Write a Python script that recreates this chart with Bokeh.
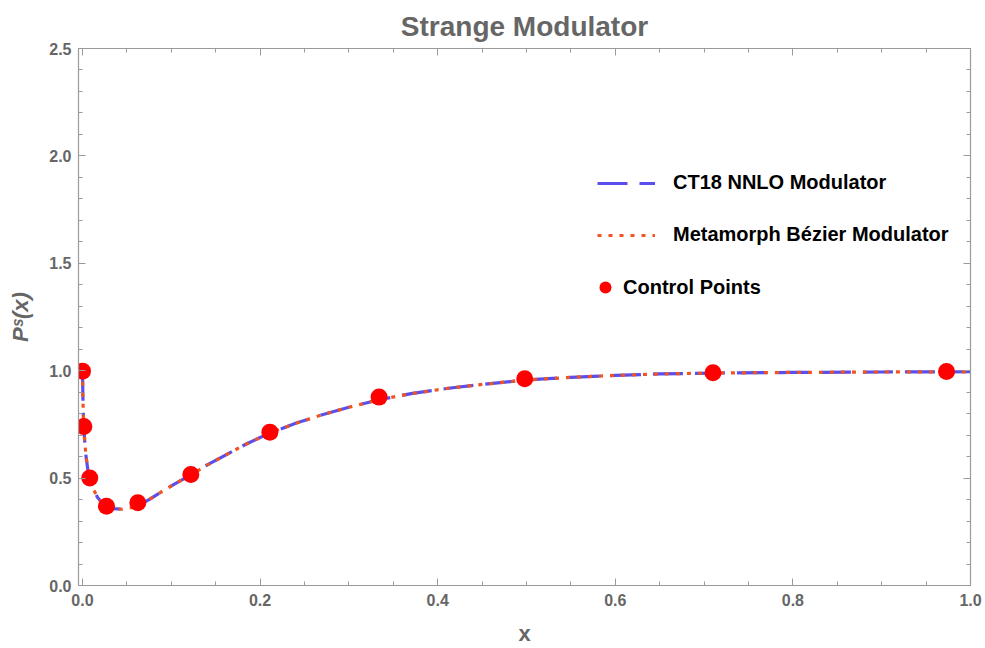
from bokeh.plotting import figure
from bokeh.models import (Range1d, LinearAxis, SingleIntervalTicker, PrintfTickFormatter,
                          Legend, LegendItem, CustomLabelingPolicy)
from bokeh.embed import file_html
from bokeh.resources import INLINE

# ---- data ----
curve_x = [0.0, 0.0005, 0.001, 0.0015, 0.0025, 0.004, 0.006, 0.0082, 0.012, 0.017,
           0.022, 0.027, 0.035, 0.045, 0.055, 0.0623, 0.075, 0.088, 0.105, 0.122,
           0.14, 0.16, 0.185, 0.211, 0.24, 0.27, 0.30, 0.334, 0.37, 0.41,
           0.45, 0.50, 0.55, 0.60, 0.65, 0.71, 0.80, 0.90, 1.0]
ct18_y = [1.0, 0.87, 0.79, 0.74, 0.67, 0.60, 0.54, 0.50, 0.45, 0.41,
          0.385, 0.37, 0.358, 0.355, 0.362, 0.372, 0.40, 0.434, 0.475, 0.515,
          0.56, 0.605, 0.66, 0.71, 0.755, 0.795, 0.83, 0.865, 0.893, 0.917,
          0.936, 0.957, 0.969, 0.978, 0.985, 0.989, 0.992, 0.994, 0.995]
bezier_y = [1.0, 0.87, 0.79, 0.74, 0.67, 0.60, 0.54, 0.50, 0.45, 0.41,
            0.385, 0.37, 0.358, 0.355, 0.362, 0.372, 0.40, 0.434, 0.475, 0.515,
            0.56, 0.605, 0.66, 0.71, 0.755, 0.795, 0.83, 0.865, 0.893, 0.917,
            0.936, 0.957, 0.969, 0.978, 0.985, 0.989, 0.992, 0.994, 0.995]
ctrl_x = [0.0, 0.0015, 0.0082, 0.027, 0.0623, 0.122, 0.211, 0.334, 0.498, 0.710, 0.973]
ctrl_y = [0.998, 0.740, 0.500, 0.369, 0.385, 0.517, 0.714, 0.877, 0.962, 0.990, 0.996]

title_text = "Strange Modulator"
x_label = "x"
y_label = "P\u02e2(x)"
names = ["CT18 NNLO Modulator", "Metamorph B\u00e9zier Modulator", "Control Points"]

FONT = "Liberation Sans"
GRAY = "#666666"
AXIS = "#9a9a9a"

p = figure(width=985, height=648, output_backend="svg", toolbar_location=None,
           x_range=Range1d(-0.0045, 1.0), y_range=Range1d(0.0, 2.5),
           x_axis_type=None, y_axis_type=None,
           min_border_left=78, min_border_right=15, min_border_top=48, min_border_bottom=63)
p.outline_line_color = None
p.xgrid.visible = False
p.ygrid.visible = False
p.background_fill_color = "white"
p.border_fill_color = "white"

p.title.text = title_text
p.title.align = "center"
p.title.vertical_align = "top"
p.title.standoff = 10
p.title.text_line_height = 0.7
p.title.text_font = FONT
p.title.text_font_size = "28px"
p.title.text_font_style = "bold"
p.title.text_color = GRAY

no_labels = CustomLabelingPolicy(code="""
for (const i of Array.from(indices)) { indices.unset(i) }
return indices
""")


def style_axis(ax, labels=True):
    ax.axis_line_color = AXIS
    ax.axis_line_width = 1.2
    ax.major_tick_line_color = AXIS
    ax.minor_tick_line_color = AXIS
    ax.major_tick_in = 7
    ax.major_tick_out = 0
    ax.minor_tick_in = 4
    ax.minor_tick_out = 0
    ax.major_label_text_font = FONT
    ax.major_label_text_font_style = "bold"
    ax.major_label_text_color = GRAY
    ax.formatter = PrintfTickFormatter(format="%.1f")
    if labels:
        ax.major_label_text_font_size = "16px"
    else:
        ax.major_label_text_font_size = "0px"
        ax.major_label_policy = no_labels
        ax.major_label_standoff = 0


xt = SingleIntervalTicker(interval=0.2, num_minor_ticks=4)
yt = SingleIntervalTicker(interval=0.5, num_minor_ticks=5)

xb = LinearAxis(ticker=xt)
style_axis(xb)
xb.major_label_standoff = 8
xb.axis_label = x_label
xb.axis_label_text_font = FONT
xb.axis_label_text_font_size = "22px"
xb.axis_label_text_font_style = "bold"
xb.axis_label_text_color = GRAY
xb.axis_label_standoff = 12
p.add_layout(xb, "below")

yl = LinearAxis(ticker=yt)
style_axis(yl)
yl.major_label_standoff = 7
yl.axis_label = y_label
yl.axis_label_text_font = FONT
yl.axis_label_text_font_size = "22px"
yl.axis_label_text_font_style = "bold italic"
yl.axis_label_text_color = GRAY
yl.axis_label_standoff = 13
p.add_layout(yl, "left")

xtop = LinearAxis(ticker=SingleIntervalTicker(interval=0.2, num_minor_ticks=4))
style_axis(xtop, labels=False)
p.add_layout(xtop, "above")

yr = LinearAxis(ticker=SingleIntervalTicker(interval=0.5, num_minor_ticks=5))
style_axis(yr, labels=False)
p.add_layout(yr, "right")

r_ct18 = p.line(curve_x, ct18_y, line_color="#5a4fec", line_width=3.2, line_dash="30 12")
r_bez = p.line(curve_x, bezier_y, line_color="#ee5522", line_width=3.2, line_dash="4 7")
r_pts = p.scatter(ctrl_x, ctrl_y, size=17, fill_color="#ff0000", line_color="#ff0000",
                  line_width=0)

leg1 = Legend(items=[LegendItem(label=names[0], renderers=[r_ct18]),
                     LegendItem(label=names[1], renderers=[r_bez])],
              location=(519, 339), glyph_width=58, glyph_height=20, label_height=20,
              label_standoff=18, spacing=29, padding=0, margin=0,
              border_line_color=None, background_fill_alpha=0,
              label_text_font=FONT, label_text_font_size="20px",
              label_text_font_style="bold", label_text_color="black")
leg2 = Legend(items=[LegendItem(label=names[2], renderers=[r_pts])],
              location=(512, 283), glyph_width=30, glyph_height=30, label_height=20,
              label_standoff=3, padding=0, margin=0,
              border_line_color=None, background_fill_alpha=0,
              label_text_font=FONT, label_text_font_size="20px",
              label_text_font_style="bold", label_text_color="black")
p.add_layout(leg1, "center")
p.add_layout(leg2, "center")

open("out.html", "w").write(file_html(p, INLINE))
